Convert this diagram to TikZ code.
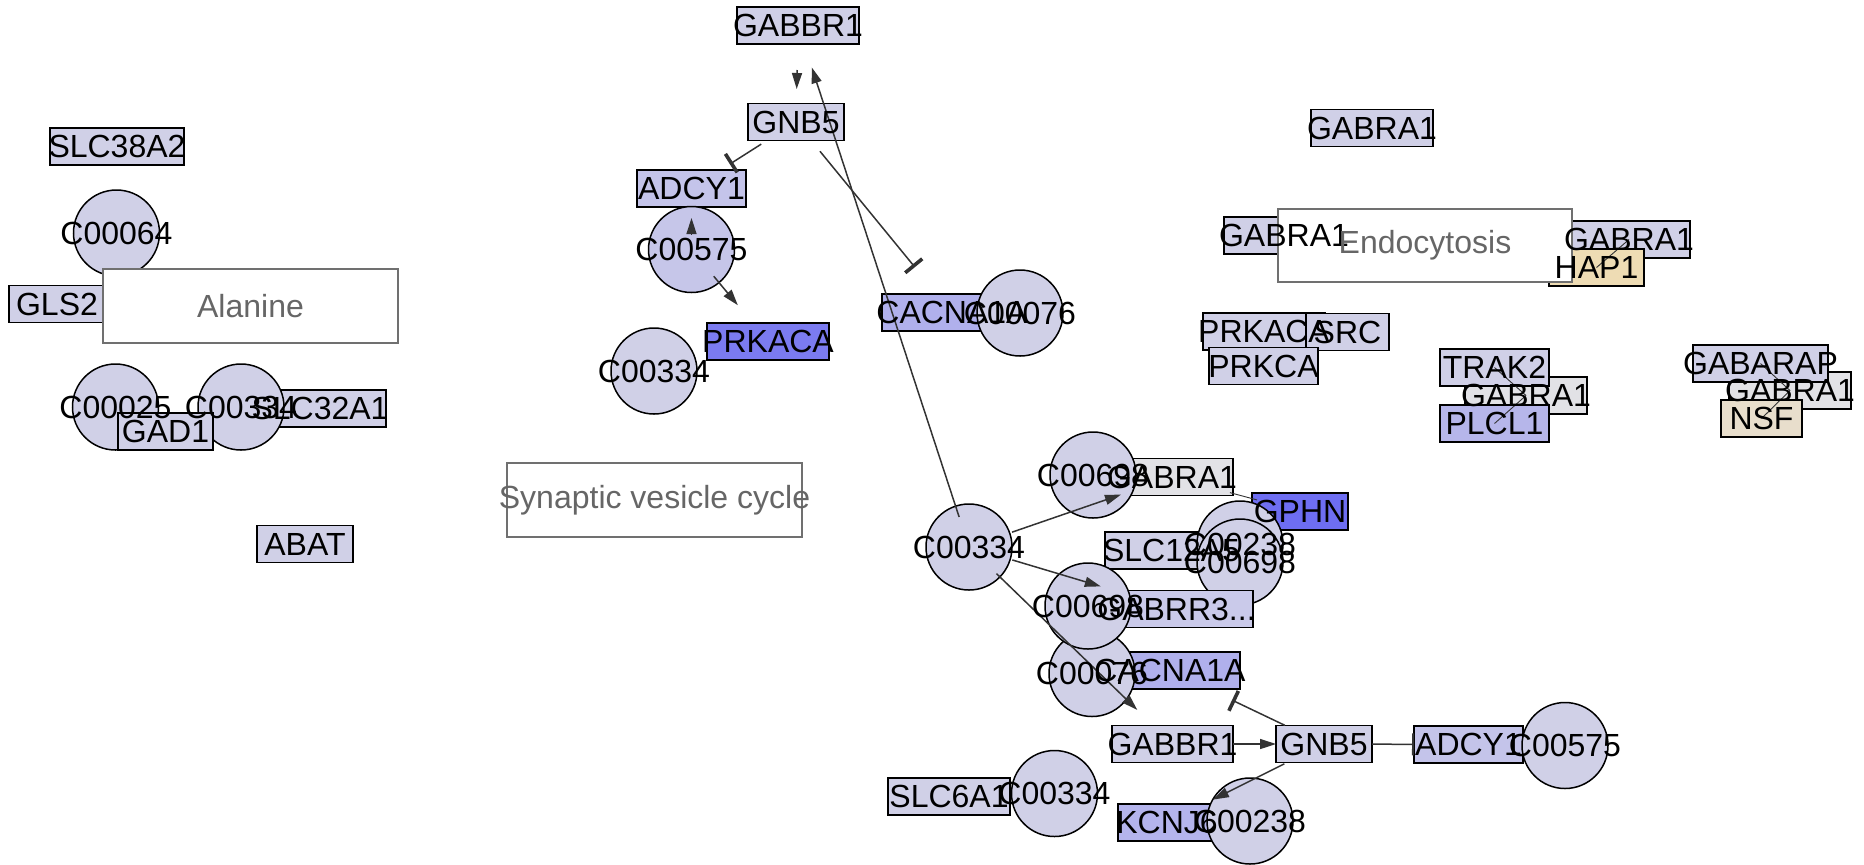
\documentclass[tikz,border=0pt]{standalone}
\usepackage{fontspec}
\setmainfont{Liberation Sans}
\usetikzlibrary{arrows.meta}
\definecolor{std}{RGB}{208,208,231}
\definecolor{adcy}{RGB}{196,196,234}
\definecolor{adcyc}{RGB}{198,198,233}
\definecolor{prkacacol}{RGB}{123,123,240}
\definecolor{gphncol}{RGB}{110,110,242}
\definecolor{cacna}{RGB}{176,176,236}
\definecolor{kcnj}{RGB}{180,180,236}
\definecolor{plclcol}{RGB}{182,182,234}
\definecolor{gabrr}{RGB}{202,202,234}
\definecolor{grayent}{RGB}{226,226,230}
\definecolor{hapcol}{RGB}{238,220,180}
\definecolor{nsfcol}{RGB}{232,222,204}
\definecolor{grpline}{RGB}{112,112,112}
\definecolor{grptext}{RGB}{102,102,102}
\definecolor{edgecol}{RGB}{51,51,51}
\begin{document}
\begin{tikzpicture}[x=0.5pt,y=-0.5pt,
  ent/.style={draw=black,line width=0.75pt,fill=std,minimum height=18.5pt,inner sep=0pt},
  bwid/.style={minimum width=#1*0.5pt},
  cpd/.style={circle,draw=black,line width=0.75pt,fill=std,minimum size=43pt,inner sep=0pt},
  grp/.style={draw=grpline,line width=0.8pt,fill=white,inner sep=0pt},
  lbl/.style={font=\fontsize{16}{18}\selectfont,inner sep=0pt},
  glbl/.style={lbl,text=grptext},
  edge/.style={draw=edgecol,line width=0.75pt},
  act/.style={edge,-{Triangle[length=8pt,width=5pt]}},
  inh/.style={edge,-{Bar[width=11pt,line width=1.8pt]}},
  thinl/.style={draw=edgecol,line width=0.45pt}]
\useasboundingbox (0,0) rectangle (1864,864);
% ---- left
\node[ent,bwid=134] (slc38a2) at (117,146.5) {};
\node[cpd] (c00064) at (116.5,233) {};
\node[ent,bwid=96] (gls2) at (57,304) {};
\node[cpd] (c00025) at (115.5,407) {};
\node[ent,bwid=132] (slc32a1) at (320,408.5) {};
\node[cpd] (c00334a) at (241,407) {};
\node[ent,bwid=95] (gad1) at (165.5,431.5) {};
\node[ent,bwid=96] (abat) at (305,544) {};
% ---- top middle
\node[ent,bwid=122] (gabbr1a) at (798,25.5) {};
\node[ent,bwid=96] (gnb5a) at (796,122) {};
\node[ent,bwid=109,fill=adcy] (adcy1a) at (691.5,188.5) {};
\node[cpd,fill=adcyc] (c00575a) at (691.5,249.5) {};
\node[ent,bwid=122,fill=prkacacol] (prkacaa) at (768,341.5) {};
\node[cpd] (c00334b) at (654,371) {};
\node[ent,bwid=140,fill=cacna] (cacna1aa) at (952,312.5) {};
\node[cpd] (c00076a) at (1020,313) {};
% ---- middle right
\node[ent,bwid=122,fill=grayent] (gabra1a) at (1172,477) {};
\node[cpd] (c00698a) at (1093,475) {};
\node[ent,bwid=96,fill=gphncol] (gphn) at (1300,511.5) {};
\node[ent,bwid=133] (slc12a5) at (1171.5,550.5) {};
\node[cpd] (c00238a) at (1240,544) {};
\node[cpd] (c00698b) at (1240,562) {};
\node[ent,bwid=153,fill=gabrr] (gabrr3) at (1176.5,609) {};
\node[ent,bwid=140,fill=cacna] (cacna1ab) at (1170,670.5) {};
\node[cpd] (c00076b) at (1092,673.5) {};
\node[cpd] (c00698c) at (1088,606) {};
\node[ent,bwid=121] (gabbr1b) at (1172.5,744) {};
\node[ent,bwid=96] (gnb5b) at (1324,744) {};
\node[ent,bwid=109,fill=adcy] (adcy1b) at (1468.5,744.5) {};
\node[cpd] (c00575b) at (1565,745.5) {};
\node[ent,bwid=122] (slc6a1) at (949,796.5) {};
\node[cpd] (c00334d) at (1054.5,793.5) {};
\node[ent,bwid=98,fill=kcnj] (kcnj6) at (1167,822.5) {};
\node[cpd] (c00238b) at (1250,821) {};
\node[cpd] (c00334c) at (969,547) {};
% ---- right
\node[ent,bwid=122] (gabra1b) at (1372,128) {};
\node[ent,bwid=120] (gabra1c) at (1284,235.5) {};
\node[ent,bwid=122] (gabra1d) at (1629,239.5) {};
\node[ent,bwid=95,fill=hapcol] (hap1) at (1596.5,267.5) {};
\node[ent,bwid=122] (prkacab) at (1264,331.5) {};
\node[ent,bwid=83] (src) at (1347.5,332) {};
\node[ent,bwid=109] (prkca) at (1263.5,366) {};
\node[ent,bwid=122,fill=grayent] (gabra1e) at (1526,395.5) {};
\node[ent,bwid=109] (trak2) at (1494.5,367.5) {};
\node[ent,bwid=109,fill=plclcol] (plcl1) at (1494.5,423.5) {};
\node[ent,bwid=122,fill=grayent] (gabra1f) at (1790,390.5) {};
\node[ent,bwid=135] (gabarap) at (1760.5,363.5) {};
\node[ent,bwid=81,fill=nsfcol] (nsf) at (1761.5,418.5) {};
% ---- groups
\node[grp,minimum width=147.5pt,minimum height=37pt] (alanine) at (250.5,306) {};
\node[grp,minimum width=147pt,minimum height=36.5pt] (endo) at (1425,245.5) {};
\node[grp,minimum width=147.5pt,minimum height=37pt] (svc) at (654.5,500) {};
% ---- edges
\draw[act,shorten <=22.25pt,shorten >=16.5pt] (gabbr1a.center) -- (gnb5a.center);
\draw[act,shorten <=15.8pt,shorten >=22pt] (c00334c.center) -- (gabbr1a.center);
\draw[inh,shorten <=20.6pt,shorten >=22.7pt] (gnb5a.center) -- (adcy1a.center);
\draw[inh,shorten <=18.9pt,shorten >=29.3pt] (gnb5a.center) -- (cacna1aa.center);
\draw[act,shorten <=7.75pt,shorten >=14.75pt] (c00575a.center) -- (adcy1a.center);
\draw[act,shorten <=17.4pt,shorten >=23.6pt] (c00575a.center) -- (prkacaa.center);
\draw[act,shorten <=22.75pt,shorten >=27pt] (c00334c.center) -- (gabra1a.center);
\draw[act,shorten <=22.6pt,shorten >=39.5pt] (c00334c.center) -- (gabrr3.center);
\draw[act,shorten <=19.1pt,shorten >=24.5pt] (c00334c.center) -- (gabbr1b.center);
\draw[thinl,shorten <=30pt,shorten >=22.25pt] (gabra1a.center) -- (gphn.center);
\draw[inh,shorten <=21.7pt,shorten >=34.35pt] (gnb5b.center) -- (cacna1ab.center);
\draw[act,shorten <=30.25pt,shorten >=24pt] (gabbr1b.center) -- (gnb5b.center);
\draw[edge,-{Bar[width=11pt,line width=1pt]},shorten <=24pt,shorten >=27.25pt] (gnb5b.center) -- (adcy1b.center);
\draw[act,shorten <=22.15pt,shorten >=25.6pt] (gnb5b.center) -- (kcnj6.center);
\draw[thinl] (hap1.center) -- (gabra1d.center);
\draw[thinl] (trak2.center) -- (gabra1e.center);
\draw[thinl] (gabra1e.center) -- (plcl1.center);
\draw[thinl] (gabarap.center) -- (gabra1f.center);
\draw[thinl] (gabra1f.center) -- (nsf.center);
% ---- labels
\node[lbl] (t-slc38a2) at (slc38a2) {SLC38A2};
\node[lbl] (t-c00064) at (c00064) {C00064};
\node[lbl] (t-gls2) at (gls2) {GLS2};
\node[lbl] (t-c00025) at (c00025) {C00025};
\node[lbl] (t-c00334a) at (c00334a) {C00334};
\node[lbl] (t-slc32a1) at (slc32a1) {SLC32A1};
\node[lbl] (t-gad1) at (gad1) {GAD1};
\node[lbl] (t-abat) at (abat) {ABAT};
\node[lbl] (t-gabbr1a) at (gabbr1a) {GABBR1};
\node[lbl] (t-gnb5a) at (gnb5a) {GNB5};
\node[lbl] (t-adcy1a) at (adcy1a) {ADCY1};
\node[lbl] (t-c00575a) at (c00575a) {C00575};
\node[lbl] (t-prkacaa) at (prkacaa) {PRKACA};
\node[lbl] (t-c00334b) at (c00334b) {C00334};
\node[lbl] (t-cacna1aa) at (cacna1aa) {CACNA1A};
\node[lbl] (t-c00076a) at (c00076a) {C00076};
\node[lbl] (t-gabra1a) at (gabra1a) {GABRA1};
\node[lbl] (t-c00698a) at (c00698a) {C00698};
\node[lbl] (t-gphn) at (gphn) {GPHN};
\node[lbl] (t-slc12a5) at (slc12a5) {SLC12A5};
\node[lbl] (t-c00238a) at (c00238a) {C00238};
\node[lbl] (t-c00698b) at (c00698b) {C00698};
\node[lbl] (t-gabrr3) at (gabrr3) {GABRR3...};
\node[lbl] (t-cacna1ab) at (cacna1ab) {CACNA1A};
\node[lbl] (t-c00076b) at (c00076b) {C00076};
\node[lbl] (t-c00698c) at (c00698c) {C00698};
\node[lbl] (t-gabbr1b) at (gabbr1b) {GABBR1};
\node[lbl] (t-gnb5b) at (gnb5b) {GNB5};
\node[lbl] (t-adcy1b) at (adcy1b) {ADCY1};
\node[lbl] (t-c00575b) at (c00575b) {C00575};
\node[lbl] (t-slc6a1) at (slc6a1) {SLC6A1};
\node[lbl] (t-c00334d) at (c00334d) {C00334};
\node[lbl] (t-kcnj6) at (kcnj6) {KCNJ6};
\node[lbl] (t-c00238b) at (c00238b) {C00238};
\node[lbl] (t-c00334c) at (c00334c) {C00334};
\node[lbl] (t-gabra1b) at (gabra1b) {GABRA1};
\node[lbl] (t-gabra1c) at (gabra1c) {GABRA1};
\node[lbl] (t-gabra1d) at (gabra1d) {GABRA1};
\node[lbl] (t-hap1) at (hap1) {HAP1};
\node[lbl] (t-prkacab) at (prkacab) {PRKACA};
\node[lbl] (t-src) at (src) {SRC};
\node[lbl] (t-prkca) at (prkca) {PRKCA};
\node[lbl] (t-gabra1e) at (gabra1e) {GABRA1};
\node[lbl] (t-trak2) at (trak2) {TRAK2};
\node[lbl] (t-plcl1) at (plcl1) {PLCL1};
\node[lbl] (t-gabra1f) at (gabra1f) {GABRA1};
\node[lbl] (t-gabarap) at (gabarap) {GABARAP};
\node[lbl] (t-nsf) at (nsf) {NSF};
\node[glbl] (t-alanine) at (alanine) {Alanine};
\node[glbl] (t-endo) at (endo) {Endocytosis};
\node[glbl] (t-svc) at (svc) {Synaptic vesicle cycle};
\end{tikzpicture}
\end{document}
